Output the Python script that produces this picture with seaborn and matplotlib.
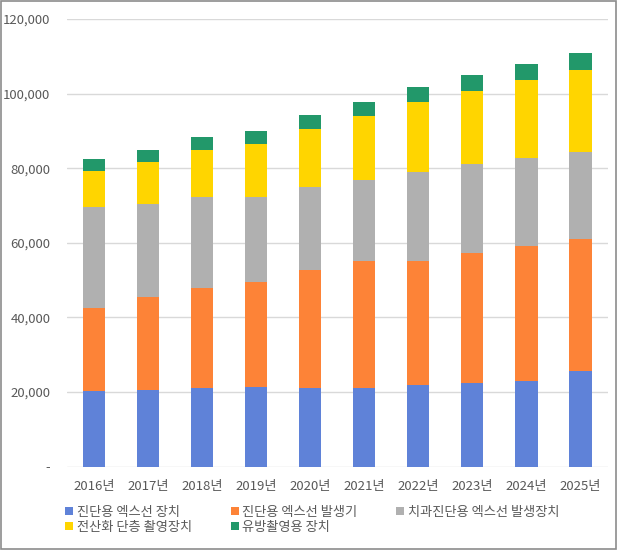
import pandas as pd
import numpy as np
import matplotlib.pyplot as plt
import seaborn as sns
from matplotlib.lines import Line2D
from matplotlib.ticker import FuncFormatter

years = ["2016년", "2017년", "2018년", "2019년", "2020년",
         "2021년", "2022년", "2023년", "2024년", "2025년"]
series_names = ["진단용 엑스선 장치", "진단용 엑스선 발생기", "치과진단용 엑스선 발생장치",
                "전산화 단층 촬영장치", "유방촬영용 장치"]
xray_device = [20300, 20600, 21100, 21400, 21100, 21100, 21900, 22400, 22900, 25600]
xray_generator = [22300, 24900, 26800, 28100, 31600, 34100, 33300, 34900, 36200, 35500]
dental_generator = [27000, 24900, 24400, 22800, 22300, 21600, 23800, 23800, 23600, 23200]
ct_device = [9600, 11300, 12600, 14200, 15500, 17200, 18700, 19600, 20900, 22000]
mammo_device = [3300, 3200, 3500, 3500, 3800, 3700, 4100, 4300, 4300, 4600]

colors = ["#5F82D8", "#FD8337", "#B0B0B0", "#FFD500", "#22986A"]

sns.set_theme(style="white")
plt.rcParams['font.family'] = ['Noto Sans CJK KR', 'DejaVu Sans']

df = pd.DataFrame({
    "year": years,
    series_names[0]: xray_device,
    series_names[1]: xray_generator,
    series_names[2]: dental_generator,
    series_names[3]: ct_device,
    series_names[4]: mammo_device,
})

fig = plt.figure(figsize=(6.17, 5.5), dpi=100)
ax = fig.add_axes([67 / 617, 1 - 466.5 / 550, (607.5 - 67) / 617, (466.5 - 19) / 550])

# stacked bars, one series at a time
bottom = np.zeros(len(years))
for name, c in zip(series_names, colors):
    sns.barplot(x=df["year"], y=df[name], bottom=bottom, color=c, width=0.41,
                saturation=1, ax=ax, linewidth=0)
    bottom = bottom + df[name].to_numpy()

ax.set_xlim(-0.5, 9.5)
ax.set_ylim(0, 120000)
ax.set_yticks(range(0, 120001, 20000))
ax.yaxis.set_major_formatter(FuncFormatter(lambda v, p: "-" if v == 0 else f"{int(v):,}"))
ax.grid(axis="y", color="#D9D9D9", linewidth=1)
ax.set_axisbelow(True)
for s in ax.spines.values():
    s.set_visible(False)
ax.set_xlabel("")
ax.set_ylabel("")
ax.tick_params(axis="both", length=0, labelsize=9.5, colors="#595959")
ax.tick_params(axis="y", pad=12)
ax.tick_params(axis="x", pad=10)

handles = [Line2D([], [], marker="s", linestyle="none", markersize=6,
                  markerfacecolor=c, markeredgewidth=0) for c in colors]
order = [0, 3, 1, 4, 2]
fig.legend([handles[i] for i in order], [series_names[i] for i in order],
           ncol=3, loc="upper left", bbox_to_anchor=(62 / 617, 1 - 506 / 550),
           frameon=False, fontsize=9.5, labelcolor="#595959",
           handletextpad=0.1, handlelength=1.0, columnspacing=2.75,
           labelspacing=0.15, borderaxespad=0, borderpad=0)

fig.patches.append(plt.Rectangle((0.001, 0.001), 0.997, 0.997, transform=fig.transFigure,
                                 fill=False, edgecolor="#8C8C8C", linewidth=1.2))

fig.savefig("out.png", dpi=100)
